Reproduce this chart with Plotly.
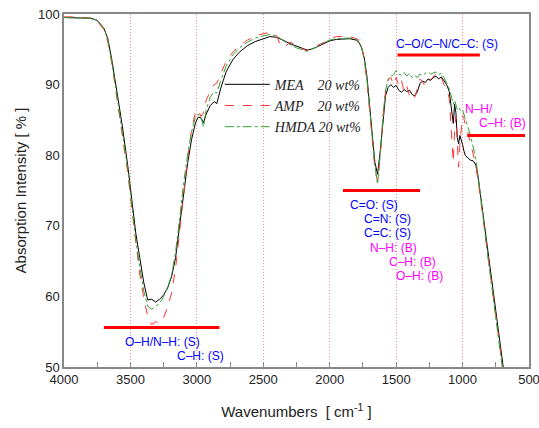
import plotly.graph_objects as go

# wavenumbers (cm-1), shared by the three spectra
wavenumber = [4000, 3900, 3800, 3750, 3700, 3670, 3640, 3600, 3560, 3520, 3490, 3460, 3430, 3400,
              3370, 3340, 3310, 3280, 3250, 3220, 3190, 3160, 3130, 3100, 3070, 3040, 3010, 2990,
              2970, 2950, 2930, 2900, 2870, 2850, 2820, 2780, 2730, 2680, 2620, 2560, 2500, 2450,
              2400, 2370, 2340, 2300, 2250, 2200, 2170, 2140, 2100, 2050, 2000, 1950, 1900, 1850,
              1800, 1780, 1760, 1740, 1720, 1700, 1680, 1660, 1640, 1620, 1600, 1580, 1560, 1540,
              1520, 1500, 1480, 1460, 1440, 1420, 1400, 1380, 1360, 1340, 1320, 1300, 1280, 1260,
              1240, 1220, 1200, 1180, 1160, 1140, 1120, 1100, 1080, 1070, 1060, 1050, 1040, 1030,
              1020, 1010, 1000, 990, 980, 960, 940, 920, 900, 880, 860, 840, 820, 800, 780, 760,
              740, 720, 700, 680]

mea = [99.5, 99.5, 99.4, 99.1, 98.0, 96.5, 93.5, 88.8, 84.0, 78.5, 73.5, 69.0, 65.5, 62.0,
       59.5, 59.6, 59.2, 59.6, 60.2, 61.2, 62.8, 65.5, 70.0, 74.8, 78.8, 82.2, 84.6, 85.4,
       85.3, 84.6, 85.8, 87.0, 87.6, 87.3, 89.5, 91.8, 93.5, 94.6, 95.5, 96.1, 96.5, 96.8,
       96.7, 96.5, 96.2, 95.8, 95.4, 95.1, 94.9, 95.0, 95.3, 95.8, 96.2, 96.4, 96.5, 96.5,
       96.3, 96.0, 95.2, 93.8, 91.2, 87.5, 83.0, 79.0, 77.3, 80.5, 85.0, 88.4, 89.6, 90.0,
       89.6, 89.9, 89.2, 88.9, 89.3, 89.0, 89.2, 88.6, 88.4, 89.0, 90.2, 90.5, 90.3, 90.8,
       90.6, 91.0, 91.2, 90.8, 91.1, 90.6, 90.0, 89.0, 85.5, 84.5, 87.2, 86.0, 82.5, 81.6,
       82.8, 82.2, 81.5, 80.6, 80.0, 79.6, 79.3, 79.2, 78.6, 76.5, 73.6, 70.6, 67.6, 64.6,
       61.4, 58.5, 55.7, 53.0, 50.4, 48.0]

amp = [99.6, 99.6, 99.4, 99.0, 97.8, 96.0, 93.0, 88.0, 83.0, 77.5, 72.5, 67.5, 63.2, 59.8,
       57.2, 56.0, 56.4, 56.2, 57.0, 58.5, 60.5, 64.0, 69.0, 74.5, 79.5, 83.5, 86.2, 86.4,
       85.5, 86.0, 87.8, 89.0, 90.0, 90.2, 91.6, 93.3, 94.6, 95.5, 96.3, 96.9, 97.2, 97.4,
       97.0, 95.5, 95.3, 96.0, 95.6, 95.0, 94.8, 95.2, 95.5, 95.9, 96.5, 96.8, 96.8, 96.8,
       96.5, 96.3, 95.5, 93.5, 90.5, 86.5, 82.0, 78.0, 76.3, 79.8, 85.0, 89.0, 90.8, 91.0,
       90.0, 91.0, 89.8, 90.6, 89.0, 89.8, 88.5, 88.9, 88.2, 89.6, 90.8, 90.4, 89.7, 90.3,
       90.7, 91.0, 91.5, 90.9, 91.0, 90.0, 89.6, 88.0, 82.0, 79.0, 83.5, 85.5, 82.0, 78.3,
       81.5, 84.0, 85.6, 85.2, 84.3, 83.2, 81.7, 80.2, 78.6, 76.0, 73.0, 70.0, 67.0, 64.0,
       61.0, 58.0, 55.2, 52.4, 49.8, 47.2]

hmda = [99.5, 99.5, 99.4, 99.1, 98.0, 96.4, 93.2, 88.2, 83.4, 78.0, 73.0, 68.0, 64.2, 60.8,
        58.6, 58.2, 58.6, 59.0, 60.0, 61.3, 63.0, 66.3, 71.0, 76.0, 80.0, 83.3, 85.5, 85.8,
        85.5, 84.0, 86.4, 88.2, 89.0, 88.8, 90.6, 92.6, 94.2, 95.2, 96.0, 96.6, 96.9, 97.1,
        96.9, 96.5, 96.1, 95.7, 95.2, 94.9, 94.7, 95.0, 95.3, 95.9, 96.3, 96.5, 96.6, 96.6,
        96.4, 96.1, 95.3, 93.5, 90.8, 86.8, 82.5, 78.5, 75.9, 80.0, 85.3, 89.2, 90.6, 91.2,
        91.4, 92.0, 91.5, 91.3, 91.7, 91.2, 91.6, 91.0, 91.3, 91.0, 91.5, 91.3, 91.6, 91.8,
        91.5, 91.7, 91.8, 91.4, 91.6, 91.0, 90.2, 89.4, 88.0, 87.2, 87.8, 87.3, 86.5, 86.8,
        86.5, 86.2, 86.4, 85.7, 85.0, 84.0, 82.8, 81.3, 79.5, 76.6, 73.2, 70.2, 67.2, 64.2,
        61.1, 58.2, 55.3, 52.6, 49.9, 47.3]

series_names = ["MEA\u00a0\u00a0\u00a0 20 wt%", "AMP\u00a0\u00a0\u00a0 20 wt%", "HMDA 20 wt%"]

fig = go.Figure()
fig.add_trace(go.Scatter(x=wavenumber, y=mea, mode="lines", name=series_names[0],
                         line=dict(color="black", width=1)))
fig.add_trace(go.Scatter(x=wavenumber, y=amp, mode="lines", name=series_names[1],
                         line=dict(color="#ff3333", width=1, dash="dash")))
fig.add_trace(go.Scatter(x=wavenumber, y=hmda, mode="lines", name=series_names[2],
                         line=dict(color="#33a033", width=1, dash="dashdot")))

# red bars marking the assigned bands
for x0, x1, yv in [(3700, 2830, 55.6), (1900, 1320, 75.0), (1490, 870, 94.2), (965, 530, 82.8)]:
    fig.add_shape(type="line", x0=x0, x1=x1, y0=yv, y1=yv, xref="x", yref="y",
                  line=dict(color="red", width=3))

blue = "#0000ff"
mag = "#ff00ff"
labels = [
    ("O\u2013H/N\u2013H: (S)", 3556, 53.5, blue),
    ("C\u2013H: (S)", 3165, 51.55, blue),
    ("C\u2013O/C\u2013N/C\u2013C: (S)", 1516, 95.8, blue),
    ("N\u2013H/", 997, 86.6, mag),
    ("C\u2013H: (B)", 891, 84.5, mag),
    ("C=O: (S)", 1862, 72.9, blue),
    ("C=N: (S)", 1757, 70.9, blue),
    ("C=C: (S)", 1757, 69.0, blue),
    ("N\u2013H: (B)", 1712, 66.8, mag),
    ("C\u2013H: (B)", 1569, 64.9, mag),
    ("O\u2013H: (B)", 1516, 62.9, mag),
]
for txt, xv, yv, col in labels:
    fig.add_annotation(x=xv, y=yv, text=txt, showarrow=False, xanchor="left", yanchor="middle",
                       font=dict(family="Liberation Sans, Arial", size=12, color=col))

fig.update_layout(
    width=539, height=428,
    margin=dict(l=64, r=10, t=14, b=61, autoexpand=False),
    paper_bgcolor="white", plot_bgcolor="white",
    font=dict(family="Liberation Sans, Arial", size=13, color="#222"),
    showlegend=True,
    legend=dict(x=0.335, y=0.845, xanchor="left", yanchor="top", bgcolor="rgba(0,0,0,0)",
                itemwidth=45, tracegroupgap=0,
                font=dict(family="Liberation Serif", size=14, style="italic", color="#222")),
    xaxis=dict(range=[4000, 500], dtick=500, ticks="inside", ticklen=5, tickcolor="#888",
               minor=dict(dtick=250, ticks="inside", ticklen=5, tickcolor="#888"),
               showgrid=True, gridcolor="#ff9090", griddash="1px,2px", gridwidth=1,
               showline=True, mirror=True, linecolor="#888", linewidth=1.5, zeroline=False,
               automargin=False, ticklabeloverflow="allow",
               title=dict(text="Wavenumbers  [ cm<sup>-1</sup> ]", font=dict(size=15), standoff=20)),
    yaxis=dict(range=[50, 100], dtick=10, ticks="", showgrid=False,
               showline=True, mirror=True, linecolor="#888", linewidth=1.5, zeroline=False,
               automargin=False,
               title=dict(text="Absorption Intensity [ % ]", font=dict(size=15), standoff=8)),
)

fig.write_html("out.html", config={"displayModeBar": False},
               post_script="document.body.style.margin='0px';")
